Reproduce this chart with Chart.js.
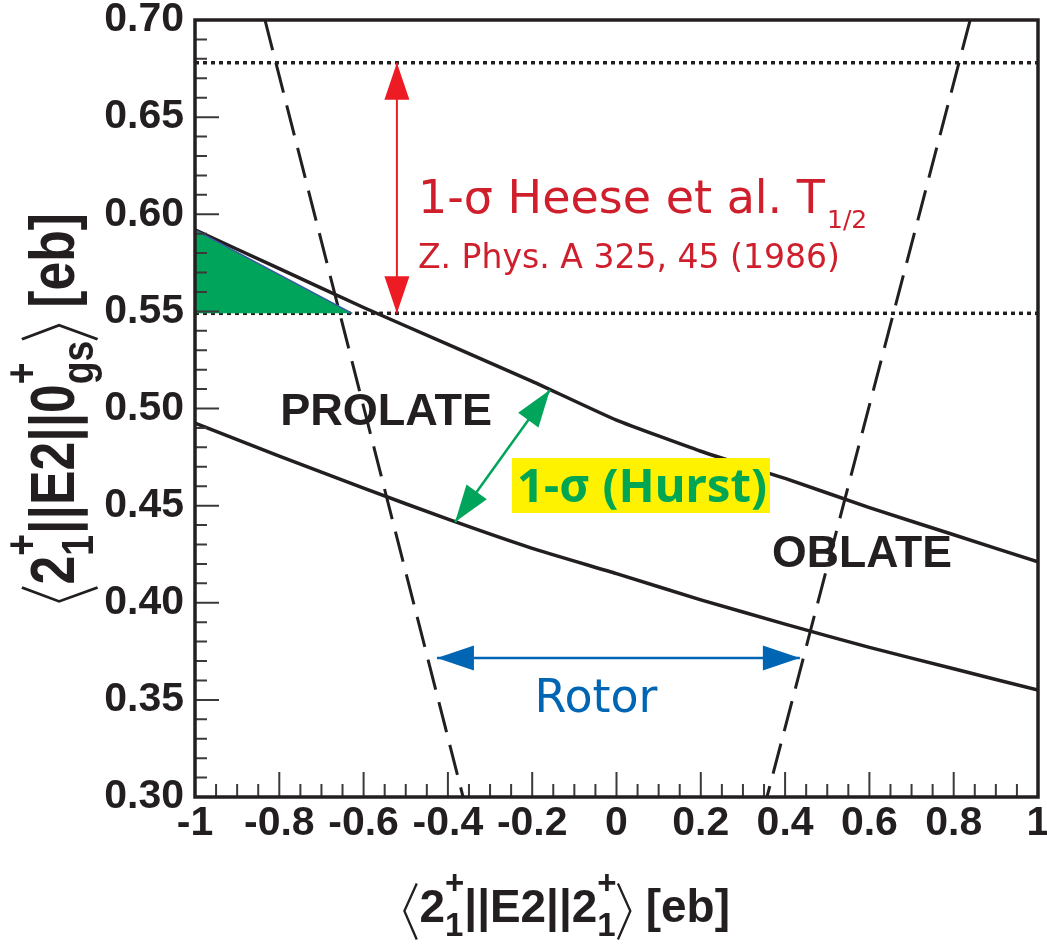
<!DOCTYPE html>
<html>
<head>
<meta charset="utf-8">
<script src="https://cdn.jsdelivr.net/npm/chart.js@4"></script>
<style>
  body { margin: 0; background: #fff; }
  canvas { display: block; }
</style>
</head>
<body>
<canvas id="chart" width="1047" height="945"></canvas>
<script>
// axis ticks
let xTicks = [-1, -0.8, -0.6, -0.4, -0.2, 0, 0.2, 0.4, 0.6, 0.8, 1];
let xTickLabels = ['-1', '-0.8', '-0.6', '-0.4', '-0.2', '0', '0.2', '0.4', '0.6', '0.8', '1'];
let yTicks = [0.30, 0.35, 0.40, 0.45, 0.50, 0.55, 0.60, 0.65, 0.70];
let yTickLabels = ['0.30', '0.35', '0.40', '0.45', '0.50', '0.55', '0.60', '0.65', '0.70'];

// 1-sigma band of the <2||E2||0> vs <2||E2||2> relation
let curveX = [-1.0, -0.8, -0.6, -0.4, -0.2, 0.0, 0.2, 0.4, 0.6, 0.8, 1.0];
let upperY = [0.592, 0.572, 0.552, 0.533, 0.514, 0.494, 0.478, 0.464, 0.449, 0.435, 0.421];
let lowerY = [0.4925, 0.4755, 0.459, 0.443, 0.428, 0.415, 0.4015, 0.389, 0.377, 0.366, 0.355];

// rotor limits (dashed), each from y=0.70 down to y=0.30
let rotorY = [0.70, 0.30];
let prolateX = [-0.834, -0.364];
let oblateX = [0.839, 0.357];

// Heese et al. half-life limits (dotted)
let heeseLimits = [0.678, 0.549];

// allowed region (green)
let allowedX = [-1.0, -0.627];
let allowedY = [0.592, 0.549];

const ink = '#231f20';

function pts(xs, ys) {
  return xs.map((x, i) => ({x: x, y: ys[i]}));
}

function arrowHead(ctx, tx, ty, fx, fy, len, w) {
  let ang = Math.atan2(ty - fy, tx - fx);
  let bx = tx - len * Math.cos(ang), by = ty - len * Math.sin(ang);
  ctx.beginPath();
  ctx.moveTo(tx, ty);
  ctx.lineTo(bx + w / 2 * Math.sin(ang), by - w / 2 * Math.cos(ang));
  ctx.lineTo(bx - w / 2 * Math.sin(ang), by + w / 2 * Math.cos(ang));
  ctx.closePath();
  ctx.fill();
}

function dblArrow(ctx, x1, y1, x2, y2, color, lw) {
  ctx.strokeStyle = color;
  ctx.fillStyle = color;
  ctx.lineWidth = lw;
  ctx.beginPath();
  ctx.moveTo(x1, y1);
  ctx.lineTo(x2, y2);
  ctx.stroke();
  arrowHead(ctx, x1, y1, x2, y2, 37, 25);
  arrowHead(ctx, x2, y2, x1, y1, 37, 25);
}

// text with stacked sup/sub and thin angle brackets
function rich(ctx, parts, x, y, size, draw) {
  let cx = x;
  for (let p of parts) {
    if (p.br) {
      if (draw) {
        ctx.save();
        ctx.lineWidth = size * 0.05;
        ctx.beginPath();
        let w = size * 0.27;
        if (p.br === '<') {
          ctx.moveTo(cx + w + size * 0.03, y - size * 0.84);
          ctx.lineTo(cx + size * 0.03, y - size * 0.24);
          ctx.lineTo(cx + w + size * 0.03, y + size * 0.38);
        } else {
          ctx.moveTo(cx + size * 0.03, y - size * 0.84);
          ctx.lineTo(cx + w + size * 0.03, y - size * 0.24);
          ctx.lineTo(cx + size * 0.03, y + size * 0.38);
        }
        ctx.stroke();
        ctx.restore();
      }
      cx += size * 0.36;
    } else if (p.t !== undefined) {
      ctx.font = 'bold ' + size + 'px "Liberation Sans"';
      if (draw) ctx.fillText(p.t, cx, y);
      cx += ctx.measureText(p.t).width;
    } else {
      let s = size * 0.72;
      ctx.font = 'bold ' + s + 'px "Liberation Sans"';
      let w = Math.max(ctx.measureText(p.sup).width, ctx.measureText(p.sub).width);
      if (draw) {
        ctx.fillText(p.sup, cx, y - size * 0.6);
        ctx.fillText(p.sub, cx, y + size * 0.3);
      }
      cx += w;
    }
  }
  return cx - x;
}

function fitRich(ctx, parts, x, y, width) {
  let w = rich(ctx, parts, 0, 0, 100, false);
  let size = 100 * width / w;
  rich(ctx, parts, x, y, size, true);
}

function fitText(ctx, text, font, width) {
  ctx.font = font.replace('SIZE', 100);
  let size = 100 * width / ctx.measureText(text).width;
  ctx.font = font.replace('SIZE', size.toFixed(2));
  return size;
}

let xTitle = [{br: '<'}, {t: '2'}, {sup: '+', sub: '1'}, {t: '||E2||2'}, {sup: '+', sub: '1'}, {br: '>'}, {t: ' [eb]'}];
let yTitle = [{br: '<'}, {t: '2'}, {sup: '+', sub: '1'}, {t: '||E2||0'}, {sup: '+', sub: 'gs'}, {br: '>'}, {t: ' [eb]'}];

const overlay = {
  id: 'overlay',
  afterDatasetsDraw(chart) {
    let ctx = chart.ctx, a = chart.chartArea;
    let X = v => chart.scales.x.getPixelForValue(v);
    let Y = v => chart.scales.y.getPixelForValue(v);
    ctx.save();

    // inward ticks
    ctx.strokeStyle = '#3a3a3a';
    ctx.lineWidth = 2;
    ctx.beginPath();
    for (let i = -20; i <= 20; i++) {
      let x = X(i / 20);
      let len = i % 4 === 0 ? 25 : 13;
      ctx.moveTo(x, a.bottom);
      ctx.lineTo(x, a.bottom - len);
    }
    for (let i = 30; i <= 70; i++) {
      let y = Y(i / 100);
      let len = i % 5 === 0 ? 24 : 12;
      ctx.moveTo(a.left, y);
      ctx.lineTo(a.left + len, y);
    }
    ctx.stroke();
    ctx.strokeStyle = ink;
    ctx.lineWidth = 3.5;
    ctx.strokeRect(a.left, a.top, a.right - a.left, a.bottom - a.top);

    // arrows
    dblArrow(ctx, X(-0.521), Y(heeseLimits[0]), X(-0.521), Y(heeseLimits[1]), '#ed1c24', 2);
    dblArrow(ctx, X(-0.383), Y(0.4416), X(-0.158), Y(0.5095), '#00a45a', 2.5);
    dblArrow(ctx, X(-0.426), Y(0.3716), X(0.435), Y(0.3716), '#0066b3', 2.5);

    // labels
    ctx.textAlign = 'left';
    ctx.textBaseline = 'alphabetic';
    ctx.fillStyle = ink;
    fitText(ctx, 'PROLATE', 'bold SIZEpx "Liberation Sans"', 212);
    ctx.fillText('PROLATE', X(-0.798), Y(0.4915));
    fitText(ctx, 'OBLATE', 'bold SIZEpx "Liberation Sans"', 180);
    ctx.fillText('OBLATE', X(0.369), Y(0.4184));

    ctx.fillStyle = '#d01f2c';
    fitText(ctx, '1-σ Heese et al. T', 'SIZEpx "DejaVu Sans"', 407);
    ctx.fillText('1-σ Heese et al. T', X(-0.471), Y(0.6006));
    ctx.font = '25px "DejaVu Sans"';
    ctx.fillText('1/2', X(-0.471) + 409, Y(0.6006) + 15);
    fitText(ctx, 'Z. Phys. A 325, 45 (1986)', 'SIZEpx "DejaVu Sans"', 422);
    ctx.fillText('Z. Phys. A 325, 45 (1986)', X(-0.471), Y(0.5723));

    ctx.fillStyle = '#0066b3';
    ctx.textAlign = 'center';
    fitText(ctx, 'Rotor', 'SIZEpx "DejaVu Sans"', 123);
    ctx.fillText('Rotor', X(-0.0486), Y(0.3438));

    ctx.fillStyle = '#fff200';
    ctx.fillRect(X(-0.248), Y(0.4745), X(0.364) - X(-0.248), Y(0.4462) - Y(0.4745));
    ctx.fillStyle = '#00a651';
    ctx.textAlign = 'left';
    fitText(ctx, '1-σ (Hurst)', 'bold SIZEpx "Noto Sans"', 250);
    ctx.fillText('1-σ (Hurst)', X(-0.236), Y(0.4519));

    // axis titles
    ctx.fillStyle = ink;
    ctx.strokeStyle = ink;
    fitRich(ctx, xTitle, 403, 922, 327);
    ctx.save();
    ctx.translate(74, 603);
    ctx.rotate(-Math.PI / 2);
    ctx.scale(1, 1.2);
    fitRich(ctx, yTitle, 0, 0, 390);
    ctx.restore();

    ctx.restore();
  }
};

const tickFont = {family: 'Liberation Sans', size: 41, weight: 'bold', lineHeight: 1};

new Chart(document.getElementById('chart').getContext('2d'), {
  type: 'line',
  data: {
    datasets: [
      {data: pts(allowedX, allowedY), fill: {value: heeseLimits[1]}, backgroundColor: '#00a45a',
       borderColor: '#3b5ba5', borderWidth: 1.5, pointRadius: 0},
      {data: pts(curveX, upperY), borderColor: ink, borderWidth: 3.5, pointRadius: 0, tension: 0.15},
      {data: pts(curveX, lowerY), borderColor: ink, borderWidth: 3.5, pointRadius: 0, tension: 0.15},
      {data: pts(prolateX, rotorY), borderColor: ink, borderWidth: 3, borderDash: [31, 13], pointRadius: 0},
      {data: pts(oblateX, rotorY), borderColor: ink, borderWidth: 3, borderDash: [31, 13], pointRadius: 0},
      {data: pts([-1, 1], [heeseLimits[0], heeseLimits[0]]), borderColor: ink, borderWidth: 3.5, borderDash: [4, 4], pointRadius: 0},
      {data: pts([-1, 1], [heeseLimits[1], heeseLimits[1]]), borderColor: ink, borderWidth: 3.5, borderDash: [4, 4], pointRadius: 0}
    ]
  },
  options: {
    responsive: false,
    animation: false,
    layout: {padding: 0},
    plugins: {legend: {display: false}, tooltip: {enabled: false}},
    scales: {
      x: {
        type: 'linear', min: -1, max: 1,
        afterBuildTicks: s => { s.ticks = xTicks.map(v => ({value: v})); },
        afterFit: s => { s.height = 148; s.paddingRight = 9; s.paddingLeft = 0; },
        grid: {display: false, drawTicks: false},
        border: {display: false},
        ticks: {font: tickFont, color: ink, padding: 6, maxRotation: 0, autoSkip: false,
                callback: (v, i) => xTickLabels[i]}
      },
      y: {
        type: 'linear', min: 0.3, max: 0.7,
        afterBuildTicks: s => { s.ticks = yTicks.map(v => ({value: v})); },
        afterFit: s => { s.width = 195; s.paddingTop = 20; s.paddingBottom = 0; },
        grid: {display: false, drawTicks: false},
        border: {display: false},
        ticks: {font: tickFont, color: ink, padding: 11, autoSkip: false,
                callback: (v, i) => yTickLabels[i]}
      }
    }
  },
  plugins: [overlay]
});
</script>
</body>
</html>
